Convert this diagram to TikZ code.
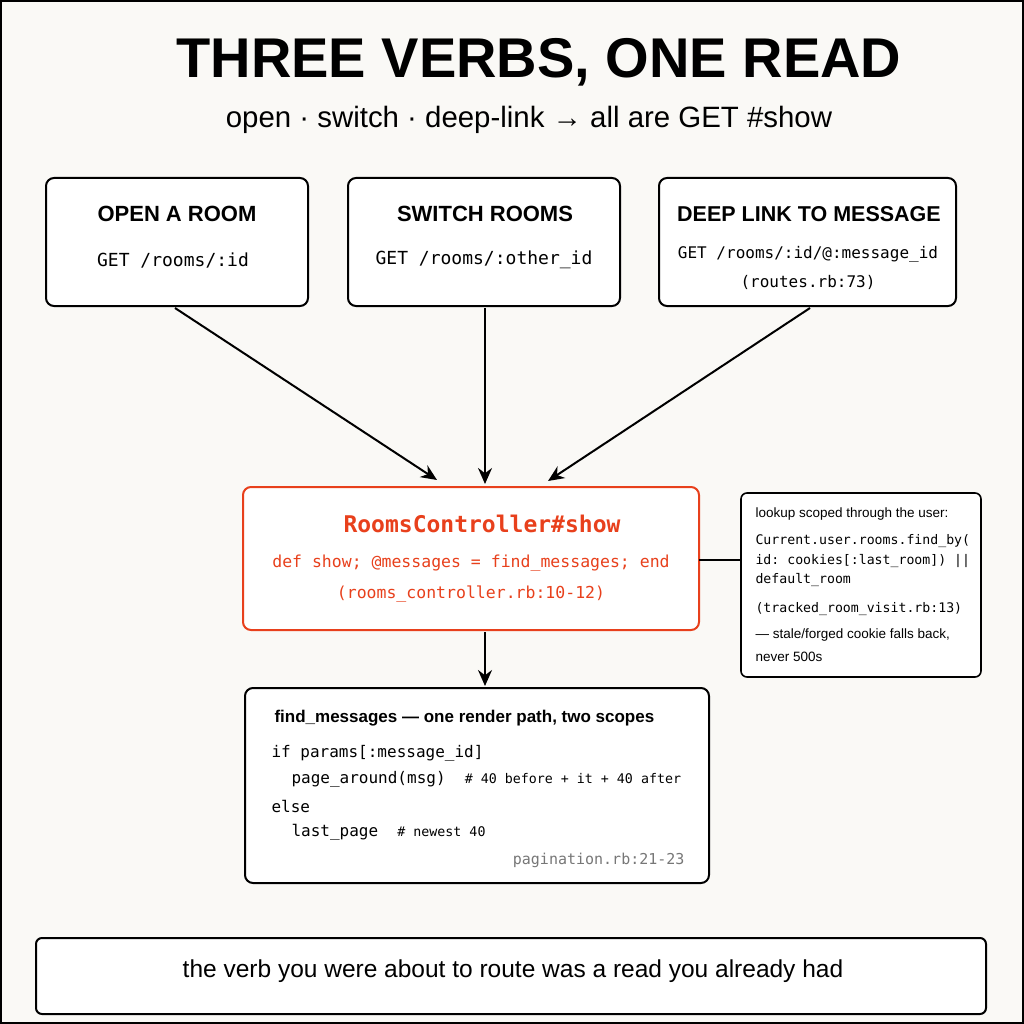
\documentclass[tikz,border=0pt]{standalone}
\usepackage{fontspec}
\setmainfont{Liberation Sans}
\setmonofont{DejaVu Sans Mono}
\usetikzlibrary{arrows.meta}
\definecolor{bg}{HTML}{FAF9F6}
\definecolor{accent}{HTML}{E8401C}
\definecolor{greyt}{HTML}{777777}
\newcommand{\fs}[1]{\fontsize{#1}{#1}\selectfont}
\begin{document}
\begin{tikzpicture}[x=1pt,y=-1pt,
  box/.style={draw=black,line width=2pt,rounded corners=8pt,fill=white},
  arr/.style={line width=2pt,-{Stealth[length=16pt,width=14pt]}},
  hd/.style={font=\bfseries\fs{22}},
  cd/.style={font=\ttfamily\fs{18}}]
\fill[bg] (0,0) rectangle (1024,1024);
\draw[line width=2pt] (1,1) rectangle (1023,1023);
\useasboundingbox (0,0) rectangle (1024,1024);
\node (title) at (539,62) {\bfseries\fs{56}THREE VERBS, ONE READ};
\node (sub) at (529,120) {\fs{29.4}open · switch · deep-link → all are GET \#show};
% top boxes
\draw[box] (46,178) rectangle (308,306);
\node[hd] (ta) at (177,214) {OPEN A ROOM};
\node[cd] (ca) at (173,260) {GET /rooms/:id};
\draw[box] (348,178) rectangle (620,306);
\node[hd] (tb) at (485,214) {SWITCH ROOMS};
\node[cd] (cb) at (484,260) {GET /rooms/:other\_id};
\draw[box] (659,178) rectangle (956,306);
\node[hd,font=\bfseries\fs{21.5}] (tc) at (809,214) {DEEP LINK TO MESSAGE};
\node[cd,font=\ttfamily\fs{16}] (cc) at (808,254) {GET /rooms/:id/@:message\_id};
\node[cd,font=\ttfamily\fs{16}] (cc2) at (808,282) {(routes.rb:73)};
\coordinate (a1) at (175,308); \coordinate (a2) at (437,480);
\coordinate (b1) at (485,308); \coordinate (b2) at (485,484);
\coordinate (c1) at (810,308); \coordinate (c2) at (548,481);
\draw[arr] (a1) -- (a2);
\draw[arr] (b1) -- (b2);
\draw[arr] (c1) -- (c2);
% controller
\draw[box,draw=accent] (243,487) rectangle (699,630);
\node[text=accent,font=\ttfamily\bfseries\fs{23}] (rc) at (482,524) {RoomsController\#show};
\node[text=accent,font=\ttfamily\fs{16.5}] (rc2) at (471,563) {def show; @messages = find\_messages; end};
\node[text=accent,font=\ttfamily\fs{16.5}] (rc3) at (471,594) {(rooms\_controller.rb:10-12)};
% note
\draw[box,line width=1.6pt,rounded corners=6pt] (741,493) rectangle (981,677);
\coordinate (l1) at (699,560); \coordinate (l2) at (741,560);
\draw[line width=1.6pt] (l1) -- (l2);
\node[anchor=west,font=\fs{13.5}] (n1) at (752,514) {lookup scoped through the user:};
\node[anchor=west,font=\ttfamily\fs{13.2}] (n2) at (752,541) {Current.user.rooms.find\_by(};
\node[anchor=west,font=\ttfamily\fs{13.2}] (n3) at (752,561) {id: cookies[:last\_room]) ||};
\node[anchor=west,font=\ttfamily\fs{13.2}] (n4) at (752,580) {default\_room};
\node[anchor=west,font=\ttfamily\fs{13.2}] (n5) at (752,609) {(tracked\_room\_visit.rb:13)};
\node[anchor=west,font=\fs{13.5}] (n6) at (752,635) {— stale/forged cookie falls back,};
\node[anchor=west,font=\fs{13.5}] (n7) at (752,657) {never 500s};
% find box
\coordinate (d1) at (485,632); \coordinate (d2) at (485,686);
\draw[arr] (d1) -- (d2);
\draw[box] (245,688) rectangle (709,883);
\node[anchor=west,font=\bfseries\fs{17}] (f1) at (271,718) {find\_messages — one render path, two scopes};
\node[anchor=west,font=\ttfamily\fs{16}] (f2) at (268,753) {if params[:message\_id]};
\node[anchor=west,font=\ttfamily\fs{16}] (f3) at (288,779) {page\_around(msg)\hspace{1.2em}{\fs{13.3}\# 40 before + it + 40 after}};
\node[anchor=west,font=\ttfamily\fs{16}] (f4) at (268,806) {else};
\node[anchor=west,font=\ttfamily\fs{16}] (f5) at (288,832) {last\_page\hspace{1.2em}{\fs{13.3}\# newest 40}};
\node[anchor=east,text=greyt,font=\ttfamily\fs{15}] (f6) at (688,860) {pagination.rb:21-23};
% footer
\draw[box,rounded corners=6pt] (36,938) rectangle (986,1014);
\node[font=\fs{24.5}] (ft) at (513,971) {the verb you were about to route was a read you already had};
\end{tikzpicture}
\end{document}
